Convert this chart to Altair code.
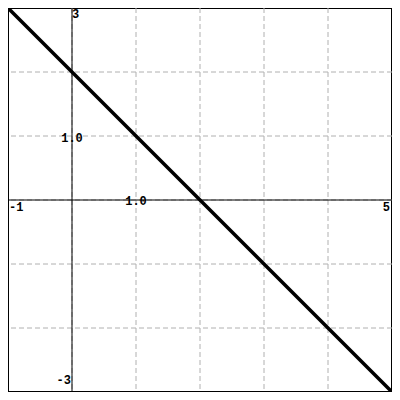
import altair as alt
import pandas as pd

line_x = [-1, 5]
line_y = [3, -3]
grid_x = [0, 1, 2, 3, 4]
grid_y = [-2, -1, 0, 1, 2]
lbl_text = ["-1", "5", "1.0", "1.0", "3", "-3"]
lbl_x = [-1, 5, 1, 0, 0, 0]
lbl_y = [0, 0, 0, 1, 3, -3]

W = 384
H = 384
xs = alt.Scale(domain=[-1, 5], nice=False, zero=False)
ys = alt.Scale(domain=[-3, 3], nice=False, zero=False)

base_df = pd.DataFrame({"x": line_x, "y": line_y})

gx = alt.Chart(pd.DataFrame({"v": grid_x})).mark_rule(
    color="#b0b0b0", strokeDash=[5, 3], strokeWidth=1
).encode(x=alt.X("v:Q", scale=xs, axis=None))
gy = alt.Chart(pd.DataFrame({"v": grid_y})).mark_rule(
    color="#b0b0b0", strokeDash=[5, 3], strokeWidth=1
).encode(y=alt.Y("v:Q", scale=ys, axis=None))

ax0 = alt.Chart(pd.DataFrame({"v": [0]})).mark_rule(color="black", strokeWidth=1).encode(
    x=alt.X("v:Q", scale=xs, axis=None))
ay0 = alt.Chart(pd.DataFrame({"v": [0]})).mark_rule(color="black", strokeWidth=1).encode(
    y=alt.Y("v:Q", scale=ys, axis=None))

ln = alt.Chart(base_df).mark_line(color="black", strokeWidth=3.5).encode(
    x=alt.X("x:Q", scale=xs, axis=None), y=alt.Y("y:Q", scale=ys, axis=None))

lbl = pd.DataFrame({"t": lbl_text, "x": lbl_x, "y": lbl_y})
font = dict(font="Liberation Mono", fontSize=12, fontWeight="bold", color="black")

def tx(i, **kw):
    return alt.Chart(lbl.iloc[[i]]).mark_text(**font, **kw).encode(
        x=alt.X("x:Q", scale=xs, axis=None), y=alt.Y("y:Q", scale=ys, axis=None), text="t:N")

labels = [
    tx(0, align="left", baseline="top", dx=1, dy=2),
    tx(1, align="right", baseline="top", dx=-2, dy=2),
    tx(2, align="center", baseline="middle", dy=1),
    tx(3, align="center", baseline="middle", dy=2),
    tx(4, align="left", baseline="top", dx=0, dy=1),
    tx(5, align="right", baseline="bottom", dx=-1, dy=-5),
]

chart = alt.layer(gx, gy, ax0, ay0, ln, *labels).properties(
    width=W, height=H, padding=0,
    autosize=alt.AutoSizeParams(type="none")
).configure_view(stroke="black", strokeWidth=2)

chart.save("out.html", embed_options={"renderer": "svg", "actions": False})
